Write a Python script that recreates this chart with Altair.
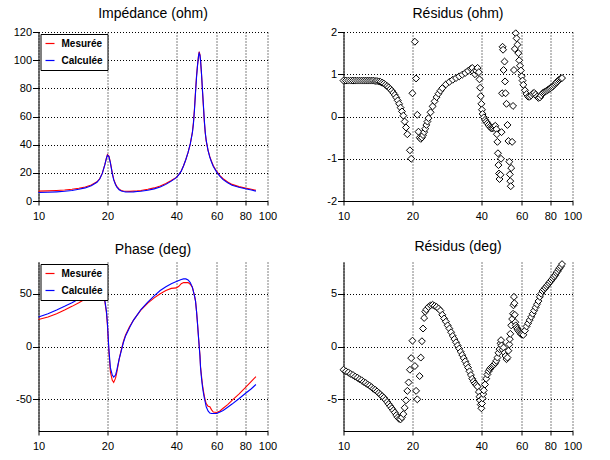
import altair as alt
import pandas as pd

FONT = "Liberation Sans"

# ---------------- data ----------------
freq_lines = [10, 11, 12, 13, 14, 15, 16, 17, 18, 18.5, 19, 19.5, 19.8, 20, 20.3, 20.6, 21, 21.3, 21.7, 22,
              22.5, 23, 23.5, 24, 25, 26, 27, 28, 30, 32, 34, 36, 38, 40, 41, 42, 43, 44, 45, 46, 47,
              47.5, 48, 48.5, 49, 49.5, 50, 50.3, 50.7, 51, 51.5, 52, 52.5, 53, 53.5, 54,
              55, 56, 57, 58, 60, 62, 64, 67, 70, 75, 80, 85, 89]

z_mes = [7.0, 7.2, 7.5, 7.8, 8.3, 9.0, 9.9, 11.3, 13.6, 15.8, 19.8, 26.0, 30.5, 33.0, 32.0, 27.5, 20.0, 15.5, 12.0, 10.2,
         8.4, 7.5, 7.1, 6.9, 6.8, 7.0, 7.2, 7.5, 8.3, 9.3, 10.7, 12.4, 14.5, 16.8, 18.8, 21.3, 25.0, 29.5, 34.5, 40.5, 49.0,
         56.0, 66.0, 78.0, 89.0, 97.0, 103.5, 106.0, 104.0, 100.0, 90.0, 78.0, 67.0, 56.0, 48.0, 42.5,
         36.0, 31.5, 28.0, 25.0, 21.0, 18.0, 15.8, 13.5, 11.8, 10.2, 9.2, 8.3, 7.6]

z_cal = [6.0, 6.2, 6.5, 6.9, 7.5, 8.3, 9.3, 10.8, 13.3, 15.6, 19.6, 26.0, 30.5, 32.5, 31.5, 27.0, 19.5, 15.0, 11.5, 9.8,
         8.0, 7.1, 6.7, 6.5, 6.4, 6.5, 6.7, 6.9, 7.6, 8.6, 10.0, 11.8, 14.1, 16.6, 18.7, 21.2, 25.0, 29.5, 34.5, 40.5, 48.5,
         55.0, 65.0, 77.0, 88.0, 96.5, 103.0, 105.0, 103.5, 100.0, 90.5, 79.0, 68.0, 57.0, 48.5, 43.0,
         36.0, 31.0, 27.5, 24.5, 20.5, 17.5, 15.2, 13.0, 11.2, 9.7, 8.7, 7.8, 7.0]

ph_mes = [25.5, 28.0, 31.0, 34.5, 38.0, 41.5, 45.0, 48.5, 51.5, 52.5, 50.5, 42.0, 32.0, 20.0, -5.0, -24.0, -32.0, -34.0, -30.0, -24.0,
          -12.0, -3.0, 5.0, 11.0, 19.0, 25.0, 30.0, 34.5, 41.0, 46.0, 50.0, 53.0, 55.0, 55.5, 57.0, 59.5, 60.5, 60.5, 60.5, 59.0, 56.0,
          52.0, 48.0, 43.0, 33.0, 21.0, 8.0, 1.0, -8.0, -19.0, -28.0, -36.0, -42.0, -47.0, -51.0, -54.0,
          -56.5, -57.0, -60.0, -62.0, -62.5, -61.0, -58.5, -55.0, -51.0, -45.0, -39.0, -33.0, -28.5]

ph_cal = [28.0, 31.0, 34.5, 38.0, 41.5, 45.0, 48.5, 52.0, 54.5, 55.0, 52.0, 43.5, 33.5, 22.0, -3.0, -20.0, -27.0, -29.0, -27.0, -22.0,
          -12.0, -4.0, 4.0, 10.0, 18.0, 25.0, 30.0, 35.0, 42.0, 48.0, 53.0, 56.5, 59.5, 61.5, 62.5, 63.5, 64.0, 64.0, 63.0, 60.5, 56.0,
          52.0, 48.0, 43.0, 33.0, 21.0, 8.0, 0.5, -9.0, -20.0, -30.0, -38.0, -44.0, -49.0, -53.0, -57.0,
          -61.0, -63.0, -63.5, -63.5, -63.5, -62.0, -60.5, -57.5, -54.5, -49.5, -44.5, -40.0, -36.0]

f_res_ohm = [10.0, 10.25, 10.5, 10.75, 11.0, 11.25, 11.5, 11.75, 12.0, 12.25, 12.5, 12.75, 13.0, 13.25, 13.5, 13.75,
             14.0, 14.25, 14.5, 14.75, 15.0, 15.25, 15.5, 15.75, 16.0, 16.25, 16.5, 16.75, 17.0, 17.25, 17.5, 17.75,
             18.0, 18.25, 18.5, 18.75, 19.0, 19.5, 19.75, 20.0, 20.5, 20.75, 21.0, 21.25, 21.5, 21.75, 22.0, 22.25,
             22.5, 22.75, 23.0, 23.25, 23.5, 24.0, 24.5, 25.0, 25.5, 26.0, 26.5, 27.0, 28.0, 29.0, 30.0, 31.0,
             32.0, 33.0, 34.0, 35.0, 36.0, 36.5, 37.0, 37.5, 38.0, 38.5, 39.0, 39.25, 39.5, 39.75, 40.0, 40.25,
             40.5, 41.0, 41.5, 42.0, 42.5, 43.0, 43.5, 44.0, 44.5, 45.0, 45.5, 46.0, 46.5, 46.75, 47.0, 47.25,
             47.5, 47.75, 48.0, 48.5, 48.75, 49.0, 49.25, 49.5, 49.75, 50.0, 50.5, 50.75, 51.0, 51.5, 52.0, 52.5,
             53.0, 53.25, 53.5, 53.75, 54.0, 54.5, 55.0, 55.5, 56.0, 56.5, 57.0, 57.5, 58.0, 58.5, 59.0, 59.5,
             60.0, 60.5, 61, 62, 63, 64, 65, 66, 67, 68, 69, 70, 71, 72, 73, 74,
             75, 76, 77, 78, 79, 80, 81, 82, 83, 84, 85, 86, 87, 88, 89, 90]

res_ohm = [0.85, 0.85, 0.85, 0.85, 0.85, 0.85, 0.85, 0.85, 0.85, 0.85, 0.85, 0.85, 0.85, 0.85, 0.85, 0.84,
           0.84, 0.83, 0.82, 0.80, 0.78, 0.75, 0.72, 0.69, 0.65, 0.61, 0.56, 0.51, 0.45, 0.38, 0.30, 0.21,
           0.12, 0.02, -0.12, -0.26, -0.42, -0.80, -1.0, 0.55, 1.77, 0.90, 0.04, -0.36, -0.50, -0.53, -0.50, -0.44,
           -0.37, -0.29, -0.20, -0.12, -0.04, 0.10, 0.24, 0.36, 0.46, 0.54, 0.61, 0.67, 0.76, 0.82, 0.87, 0.91,
           0.95, 0.99, 1.03, 1.08, 1.13, 1.15, 1.05, 1.00, 1.08, 1.15, 1.05, 0.88, 0.68, 0.48, 0.30, 0.16,
           0.06, -0.02, -0.08, -0.12, -0.16, -0.20, -0.24, -0.27, -0.28, -0.27, -0.24, -0.22, -0.30, -0.42, -0.60, -0.87,
           -1.15, -1.35, -1.48, -1.38, -1.0, -0.37, 0.55, 1.65, 1.58, 1.10, 1.30, 0.83, 0.55, 0.30, -0.20, -0.58,
           -1.07, -1.37, -1.53, -1.65, -1.22, -0.60, 0.25, 1.10, 1.60, 1.97, 1.85, 1.70, 1.50, 1.33, 1.20, 1.09,
           0.95, 0.85, 0.75, 0.62, 0.53, 0.47, 0.47, 0.50, 0.54, 0.56, 0.52, 0.47, 0.44, 0.45, 0.50, 0.55,
           0.57, 0.59, 0.61, 0.63, 0.65, 0.67, 0.69, 0.71, 0.74, 0.77, 0.80, 0.83, 0.86, 0.88, 0.90, 0.91]

f_res_deg = [10.0, 10.25, 10.5, 10.75, 11.0, 11.25, 11.5, 11.75, 12.0, 12.25, 12.5, 12.75, 13.0, 13.25, 13.5, 13.75,
             14.0, 14.25, 14.5, 14.75, 15.0, 15.25, 15.5, 15.75, 16.0, 16.25, 16.5, 16.75, 17.0, 17.25, 17.5, 17.75,
             18.0, 18.25, 18.5, 18.75, 19.0, 19.25, 19.5, 19.75, 20.0, 20.5, 20.75, 21.0, 21.5, 21.75, 22.0, 22.25,
             22.5, 22.75, 23.0, 23.5, 24.0, 24.5, 25.0, 25.5, 26.0, 26.5, 27.0, 27.5, 28.0, 28.5, 29.0, 29.5,
             30.0, 30.5, 31.0, 31.5, 32.0, 32.5, 33.0, 33.5, 34.0, 34.5, 35.0, 35.5, 36.0, 36.5, 37.0, 37.5,
             38.0, 38.5, 39.0, 39.25, 39.5, 39.75, 40.0, 40.25, 40.5, 40.75, 41.0, 41.5, 42.0, 42.5, 43.0, 43.5,
             44.0, 44.5, 45.0, 45.5, 46.0, 46.5, 47.0, 47.5, 48.0, 48.5, 48.75, 49.0, 49.5, 50.0, 50.5, 51.0,
             51.5, 52.0, 52.5, 53.0, 53.25, 53.5, 54.0, 54.5, 55.0, 55.25, 55.5, 55.75, 56.0, 56.25, 56.5, 57.0,
             57.5, 58.0, 58.5, 59.0, 59.5, 60.0, 61, 62, 63, 64, 65, 66, 67, 68, 69, 70,
             71, 72, 73, 74, 75, 76, 77, 78, 79, 80, 81, 82, 83, 84, 85, 86, 87, 88, 89, 90]

res_deg = [-2.2, -2.35, -2.45, -2.6, -2.7, -2.85, -2.95, -3.1, -3.2, -3.35, -3.45, -3.6, -3.7, -3.85, -4.0, -4.1,
           -4.25, -4.4, -4.55, -4.7, -4.85, -5.05, -5.25, -5.45, -5.65, -5.85, -6.05, -6.25, -6.5, -6.7, -6.85, -6.9,
           -6.7, -6.4, -5.8, -5.1, -4.2, -3.4, -2.2, -1.1, 0.55, -1.85, -4.2, -5.0, -2.8, -1.05, 0.5, 1.7,
           2.7, 3.3, 3.5, 3.75, 3.9, 3.95, 3.85, 3.75, 3.6, 3.4, 3.0, 2.65, 2.35, 2.0, 1.7, 1.35,
           1.0, 0.7, 0.4, 0.1, -0.2, -0.5, -0.8, -1.1, -1.4, -1.7, -2.0, -2.35, -2.7, -3.05, -3.3, -3.5,
           -3.65, -3.8, -4.3, -4.75, -5.1, -5.5, -5.85, -5.4, -4.9, -4.5, -4.15, -3.6, -3.05, -2.65, -2.35, -2.15,
           -2.0, -1.9, -1.8, -1.7, -1.55, -1.35, -1.05, -0.6, -0.25, 0.3, 0.6, 0.1, -0.3, -0.1, -0.6, -0.9,
           -1.2, -1.05, -0.4, 0.2, 0.7, 1.2, 2.0, 2.6, 3.1, 3.9, 4.7, 4.1, 3.0, 2.3, 2.0, 1.8,
           1.65, 1.5, 1.4, 1.3, 1.2, 1.15, 1.1, 1.5, 1.9, 2.2, 2.5, 2.8, 3.1, 3.4, 3.7, 4.0,
           4.3, 4.7, 5.0, 5.25, 5.4, 5.55, 5.7, 5.85, 6.0, 6.15, 6.3, 6.45, 6.6, 6.75, 6.95, 7.1, 7.3, 7.45, 7.6, 7.8]

x_ticks = [10, 20, 40, 60, 80, 100]
series_names = ["Mesurée", "Calculée"]
series_colors = ["#ff0000", "#0000ff"]

# ---------------- tables ----------------
n = len(freq_lines)
z_df = pd.DataFrame({"f": freq_lines * 2, "z": z_mes + z_cal,
                     "serie": [series_names[0]] * n + [series_names[1]] * n})
ph_df = pd.DataFrame({"f": freq_lines * 2, "ph": ph_mes + ph_cal,
                      "serie": [series_names[0]] * n + [series_names[1]] * n})
ro_df = pd.DataFrame({"f": f_res_ohm, "ro": res_ohm})
rd_df = pd.DataFrame({"f": f_res_deg, "rd": res_deg})

W, H = 229, 169
MINUS = "replace(datum.label, '\u2212', '-')"


def xenc():
    return alt.X("f:Q",
                 scale=alt.Scale(type="log", domain=[10, 100], nice=False),
                 axis=alt.Axis(values=x_ticks, format="d", title=None, labelFlush=False,
                               labelOverlap=False, tickSize=4, labelPadding=5))


def yenc(field, dom, ticks):
    return alt.Y(f"{field}:Q",
                 scale=alt.Scale(domain=dom, nice=False, zero=False),
                 axis=alt.Axis(values=ticks, title=None, labelExpr=MINUS, tickSize=6, labelPadding=1))


def ttl(text):
    return alt.TitleParams(text, anchor="middle", frame="group", font=FONT, fontSize=14,
                           fontWeight="normal", color="black", offset=5)


color_enc = alt.Color("serie:N",
                      scale=alt.Scale(domain=series_names, range=series_colors),
                      legend=alt.Legend(title=None, orient="top-left", offset=2,
                                        fillColor="white", strokeColor="black",
                                        padding=4, rowPadding=6, cornerRadius=0,
                                        labelFont=FONT, labelFontWeight="bold", labelFontSize=10,
                                        labelColor="black", labelOffset=6,
                                        symbolType="stroke", symbolSize=81, symbolStrokeWidth=1.2))


def line_panel(df, field, dom, ticks, title):
    base = alt.Chart(df).encode(x=xenc(), y=yenc(field, dom, ticks), color=color_enc)
    red = base.transform_filter(f"datum.serie == '{series_names[0]}'").mark_line(strokeWidth=1.1)
    blue = base.transform_filter(f"datum.serie == '{series_names[1]}'").mark_line(strokeWidth=1.1)
    return alt.layer(red, blue).properties(width=W, height=H, title=ttl(title))


def point_panel(df, field, dom, ticks, title):
    return alt.Chart(df).mark_point(shape="diamond", size=48, filled=True, fill="white",
                                    stroke="black", strokeWidth=1, opacity=1).encode(
        x=xenc(), y=yenc(field, dom, ticks)
    ).properties(width=W, height=H, title=ttl(title))


tl = line_panel(z_df, "z", [0, 120], [0, 20, 40, 60, 80, 100, 120], "Impédance (ohm)")
tr = point_panel(ro_df, "ro", [-2, 2], [-2, -1, 0, 1, 2], "Résidus (ohm)")
bl = line_panel(ph_df, "ph", [-80, 80], [-50, 0, 50], "Phase (deg)")
br = point_panel(rd_df, "rd", [-8, 8], [-5, 0, 5], "Résidus (deg)")

chart = alt.concat(tl, tr, bl, br, columns=2, bounds="flush",
                   spacing=alt.RowColnumber(row=61, column=76)).resolve_scale(
    x="independent", y="independent", color="independent"
).resolve_legend(color="independent").properties(
    padding={"left": 12.5, "top": 7, "right": 5, "bottom": 5},
    background="white",
).configure_view(stroke=None).configure_axis(
    domainColor="black", domainWidth=1, tickColor="black", tickWidth=1,
    labelFont=FONT, labelFontSize=11, labelColor="black",
    grid=True, gridColor="black", gridDash=[1, 2], gridOpacity=1, gridWidth=1,
)

chart.save("out.html", embed_options={"renderer": "svg", "actions": False})
